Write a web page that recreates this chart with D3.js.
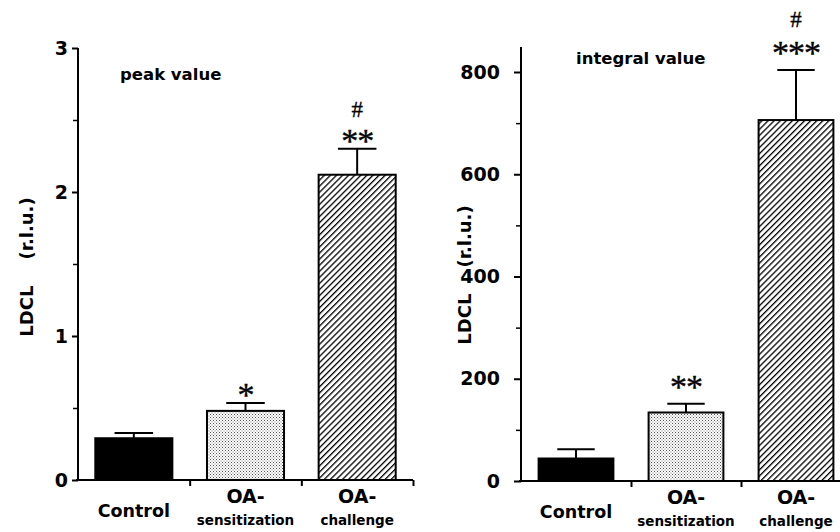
<!DOCTYPE html>
<html>
<head>
<meta charset="utf-8">
<script src="https://cdn.jsdelivr.net/npm/d3@7"></script>
<style>
  html, body { margin: 0; padding: 0; background: #fff; }
  svg { display: block; }
  .lbl { font-family: "DejaVu Sans", Verdana, sans-serif; font-weight: bold; fill: #000; }
  .sig { font-family: "Liberation Serif", "DejaVu Serif", serif; fill: #000; }
</style>
</head>
<body>
<svg id="chart" width="840" height="532"></svg>
<script>
// ---- data ----
const categories = ["Control", "OA-sensitization", "OA-challenge"];
const catLine1 = ["Control", "OA-", "OA-"];
const catLine2 = ["", "sensitization", "challenge"];

const peakMeans = [0.29, 0.48, 2.12];
const peakErrors = [0.036, 0.055, 0.18];
const peakStars = ["", "*", "**"];
const peakHash = ["", "", "#"];
const peakTicks = [0, 1, 2, 3];
const peakMinorTicks = [0.5, 1.5, 2.5];

const integralMeans = [44, 134, 706];
const integralErrors = [18, 17, 98];
const integralStars = ["", "**", "***"];
const integralHash = ["", "", "#"];
const integralTicks = [0, 200, 400, 600, 800];
const integralMinorTicks = [100, 300, 500, 700];

const fills = ["solid", "dots", "hatch"];

const svg = d3.select("#chart");
const defs = svg.append("defs");

// dotted pattern
const pd = defs.append("pattern").attr("id", "dots")
  .attr("patternUnits", "userSpaceOnUse").attr("width", 3).attr("height", 3);
pd.append("rect").attr("width", 3).attr("height", 3).attr("fill", "#fff");
pd.append("rect").attr("x", 0).attr("y", 0).attr("width", 1).attr("height", 1).attr("fill", "#555");
pd.append("rect").attr("x", 1.5).attr("y", 1.5).attr("width", 1).attr("height", 1).attr("fill", "#777");

// hatch pattern
const ph = defs.append("pattern").attr("id", "hatch")
  .attr("patternUnits", "userSpaceOnUse").attr("width", 4.3).attr("height", 4.3)
  .attr("patternTransform", "rotate(45)");
ph.append("rect").attr("width", 4.3).attr("height", 4.3).attr("fill", "#fff");
ph.append("line").attr("x1", 0).attr("y1", 0).attr("x2", 0).attr("y2", 4.3)
  .attr("stroke", "#000").attr("stroke-width", 2.6);

function fillFor(f) {
  if (f === "solid") return "#000";
  if (f === "dots") return "url(#dots)";
  return "url(#hatch)";
}

function drawPanel(p) {
  const g = svg.append("g");
  const x = d3.scaleBand().domain(categories).range(p.xRange).paddingInner(0).paddingOuter(0);
  const y = d3.scaleLinear().domain(p.yDomain).range(p.yRange);
  const bw = x.bandwidth() * p.barFrac;

  // bars
  g.selectAll("rect.bar").data(categories).join("rect")
    .attr("x", d => x(d) + (x.bandwidth() - bw) / 2)
    .attr("y", (d, i) => y(p.means[i]))
    .attr("width", bw)
    .attr("height", (d, i) => y(0) - y(p.means[i]))
    .attr("fill", (d, i) => fillFor(fills[i]))
    .attr("stroke", "#000").attr("stroke-width", 2);

  // error bars
  const capW = bw * 0.5;
  categories.forEach((c, i) => {
    const cx = x(c) + x.bandwidth() / 2;
    const top = y(p.means[i] + p.errors[i]);
    g.append("line").attr("x1", cx).attr("x2", cx)
      .attr("y1", y(p.means[i])).attr("y2", top)
      .attr("stroke", "#000").attr("stroke-width", 2);
    g.append("line").attr("x1", cx - capW / 2).attr("x2", cx + capW / 2)
      .attr("y1", top).attr("y2", top)
      .attr("stroke", "#000").attr("stroke-width", 2);
    if (p.stars[i]) {
      g.append("text").attr("class", "sig")
        .attr("x", cx).attr("y", top - p.starGap)
        .attr("text-anchor", "middle").attr("font-size", 34)
        .attr("letter-spacing", -1)
        .attr("stroke", "#000").attr("stroke-width", 0.4)
        .text(p.stars[i]);
    }
    if (p.hash[i]) {
      g.append("text").attr("class", "sig")
        .attr("x", cx).attr("y", top - p.hashGap)
        .attr("text-anchor", "middle").attr("font-size", 23)
        .attr("stroke", "#000").attr("stroke-width", 0.3)
        .text(p.hash[i]);
    }
  });

  // y axis
  const yAxis = d3.axisLeft(y).tickValues(p.ticks).tickSize(p.tickLen).tickPadding(p.tickPad)
    .tickFormat(d3.format("d"));
  const ya = g.append("g").attr("transform", `translate(${p.xRange[0]},0)`).call(yAxis);
  ya.select(".domain").attr("d", `M0,${y(0)}V${p.axisTopY}`).attr("stroke-width", 2);
  ya.selectAll(".tick line").attr("stroke-width", 2);
  ya.selectAll(".tick text").attr("class", "lbl").attr("font-size", 19);
  const yMinor = d3.axisLeft(y).tickValues(p.minor).tickSize(5).tickFormat("");
  const ym = g.append("g").attr("transform", `translate(${p.xRange[0]},0)`).call(yMinor);
  ym.select(".domain").remove();
  ym.selectAll(".tick line").attr("stroke-width", 1.5);

  // x axis
  const xBoundary = d3.scaleLinear().domain([0, 3]).range(p.xRange);
  const xa = g.append("g").attr("transform", `translate(0,${y(0)})`)
    .call(d3.axisBottom(xBoundary).tickValues([1, 2, 3]).tickSize(6).tickFormat(""));
  xa.select(".domain").attr("d", `M${p.xRange[0] - 2},0H${p.xRange[1]}`).attr("stroke-width", 2);
  xa.selectAll(".tick line").attr("stroke-width", 2);

  // category labels
  categories.forEach((c, i) => {
    const cx = x(c) + x.bandwidth() / 2;
    if (catLine2[i]) {
      g.append("text").attr("class", "lbl").attr("x", cx).attr("y", y(0) + 23)
        .attr("text-anchor", "middle").attr("font-size", 19).text(catLine1[i]);
      g.append("text").attr("class", "lbl").attr("x", cx).attr("y", y(0) + 45)
        .attr("text-anchor", "middle").attr("font-size", 13.5).text(catLine2[i]);
    } else {
      g.append("text").attr("class", "lbl").attr("x", cx).attr("y", y(0) + 37)
        .attr("text-anchor", "middle").attr("font-size", 17.5).text(catLine1[i]);
    }
  });

  // y label
  const yl = g.append("text").attr("class", "lbl")
    .attr("transform", `translate(${p.yLabelX},${p.yLabelY}) rotate(-90)`)
    .attr("text-anchor", "middle").attr("font-size", 18);
  yl.append("tspan").text("LDCL");
  yl.append("tspan").attr("dx", 26).text("(r.l.u.)");

  // title
  g.append("text").attr("class", "lbl").attr("x", p.titleX).attr("y", p.titleY)
    .attr("font-size", 16.5).text(p.title);
}

drawPanel({
  means: peakMeans, errors: peakErrors, stars: peakStars, hash: peakHash,
  ticks: peakTicks, minor: peakMinorTicks,
  xRange: [78, 413], yDomain: [0, 3], yRange: [480, 48], axisTopY: 48,
  barFrac: 0.69, tickLen: 6, tickPad: 4,
  starGap: -3, hashGap: 32,
  yLabelX: 33, yLabelY: 267,
  title: "peak value", titleX: 120, titleY: 80
});

drawPanel({
  means: integralMeans, errors: integralErrors, stars: integralStars, hash: integralHash,
  ticks: integralTicks, minor: integralMinorTicks,
  xRange: [521, 851], yDomain: [0, 800], yRange: [481, 72], axisTopY: 47,
  barFrac: 0.68, tickLen: 7, tickPad: 14,
  starGap: 6, hashGap: 43,
  yLabelX: 471, yLabelY: 275,
  title: "integral value", titleX: 576, titleY: 64
});
</script>
</body>
</html>
